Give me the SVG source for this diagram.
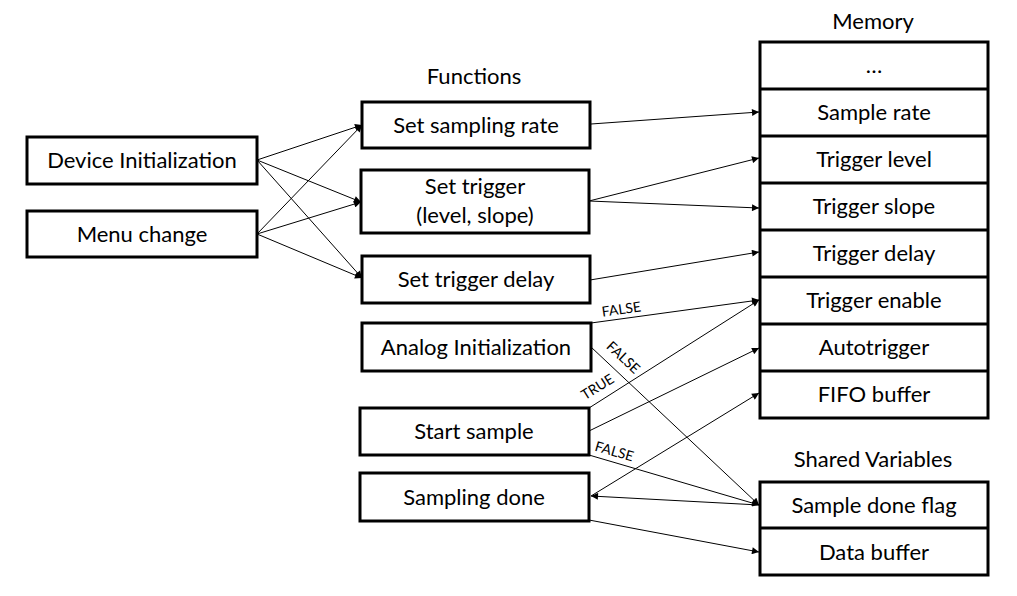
<svg xmlns="http://www.w3.org/2000/svg" width="1017" height="596" viewBox="0 0 1017 596">
<defs>
<marker id="arr" viewBox="0 0 10 10" refX="10" refY="5" markerWidth="8" markerHeight="7" markerUnits="userSpaceOnUse" orient="auto">
<path d="M0,0 L10,5 L0,10 z" fill="#000"/>
</marker>
<style>
.box{fill:#fff;stroke:#000;stroke-width:3}
.div{stroke:#000;stroke-width:3}
.t{font-family:Lato,"Liberation Sans",sans-serif;font-size:22px;fill:#000;text-anchor:middle}
.h{font-family:Lato,"Liberation Sans",sans-serif;font-size:22px;fill:#000;text-anchor:middle}
.lbl{font-family:Lato,"Liberation Sans",sans-serif;font-size:14px;fill:#000;text-anchor:middle}
.c{stroke:#000;stroke-width:1;fill:none;marker-end:url(#arr)}
</style>
</defs>
<rect width="1017" height="596" fill="#fff"/>
<g id="headers">
<text class="h" x="873" y="29">Memory</text>
<text class="h" x="474" y="84">Functions</text>
<text class="h" x="873" y="467">Shared Variables</text>
</g>
<g id="connectors">
<line class="c" x1="257" y1="160" x2="362" y2="125"/>
<line class="c" x1="257" y1="160" x2="361" y2="202"/>
<line class="c" x1="257" y1="160" x2="362" y2="278"/>
<line class="c" x1="257" y1="234" x2="362" y2="125"/>
<line class="c" x1="257" y1="234" x2="361" y2="202"/>
<line class="c" x1="257" y1="234" x2="362" y2="278"/>
<line class="c" x1="591" y1="124" x2="759" y2="112"/>
<line class="c" x1="589" y1="201" x2="759" y2="158"/>
<line class="c" x1="589" y1="201" x2="759" y2="208"/>
<line class="c" x1="590" y1="280" x2="759" y2="252"/>
<line class="c" x1="591" y1="323" x2="759" y2="300"/>
<line class="c" x1="591" y1="347" x2="759" y2="505"/>
<line class="c" x1="589" y1="408" x2="759" y2="300"/>
<line class="c" x1="589" y1="431" x2="759" y2="348"/>
<line class="c" x1="589" y1="455" x2="759" y2="505"/>
<line class="c" x1="591" y1="496" x2="759" y2="393"/>
<line class="c" x1="759" y1="505" x2="591" y2="496"/>
<line class="c" x1="589" y1="520" x2="759" y2="552"/>
<text class="lbl" transform="translate(622,314) rotate(-8)">FALSE</text>
<text class="lbl" transform="translate(620,361) rotate(43)">FALSE</text>
<text class="lbl" transform="translate(600,391) rotate(-32)">TRUE</text>
<text class="lbl" transform="translate(613,456) rotate(16)">FALSE</text>
</g>
<g id="device-init">
<rect class="box" x="27" y="137" width="230" height="47"/>
<text class="t" x="142" y="168">Device Initialization</text>
</g>
<g id="menu-change">
<rect class="box" x="27" y="211" width="230" height="46"/>
<text class="t" x="142" y="242">Menu change</text>
</g>
<g id="set-sampling-rate">
<rect class="box" x="362" y="102" width="228" height="46"/>
<text class="t" x="476" y="133">Set sampling rate</text>
</g>
<g id="set-trigger">
<rect class="box" x="361" y="170" width="228" height="63"/>
<text class="t" x="475" y="194">Set trigger</text>
<text class="t" x="475" y="223">(level, slope)</text>
</g>
<g id="set-trigger-delay">
<rect class="box" x="362" y="256" width="228" height="47"/>
<text class="t" x="476" y="287">Set trigger delay</text>
</g>
<g id="analog-init">
<rect class="box" x="362" y="323" width="229" height="48"/>
<text class="t" x="476" y="355">Analog Initialization</text>
</g>
<g id="start-sample">
<rect class="box" x="360" y="408" width="229" height="47"/>
<text class="t" x="474" y="439">Start sample</text>
</g>
<g id="sampling-done">
<rect class="box" x="360" y="473" width="229" height="48"/>
<text class="t" x="474" y="505">Sampling done</text>
</g>
<g id="memory">
<rect class="box" x="760" y="42" width="228" height="376"/>
<line class="div" x1="760" y1="89" x2="988" y2="89"/>
<line class="div" x1="760" y1="136" x2="988" y2="136"/>
<line class="div" x1="760" y1="183" x2="988" y2="183"/>
<line class="div" x1="760" y1="230" x2="988" y2="230"/>
<line class="div" x1="760" y1="277" x2="988" y2="277"/>
<line class="div" x1="760" y1="324" x2="988" y2="324"/>
<line class="div" x1="760" y1="371" x2="988" y2="371"/>
<text class="t" x="874" y="73">…</text>
<text class="t" x="874" y="120">Sample rate</text>
<text class="t" x="874" y="167">Trigger level</text>
<text class="t" x="874" y="214">Trigger slope</text>
<text class="t" x="874" y="261">Trigger delay</text>
<text class="t" x="874" y="308">Trigger enable</text>
<text class="t" x="874" y="355">Autotrigger</text>
<text class="t" x="874" y="402">FIFO buffer</text>
</g>
<g id="shared-variables">
<rect class="box" x="760" y="482" width="228" height="93"/>
<line class="div" x1="760" y1="528" x2="988" y2="528"/>
<text class="t" x="874" y="513">Sample done flag</text>
<text class="t" x="874" y="560">Data buffer</text>
</g>
</svg>
